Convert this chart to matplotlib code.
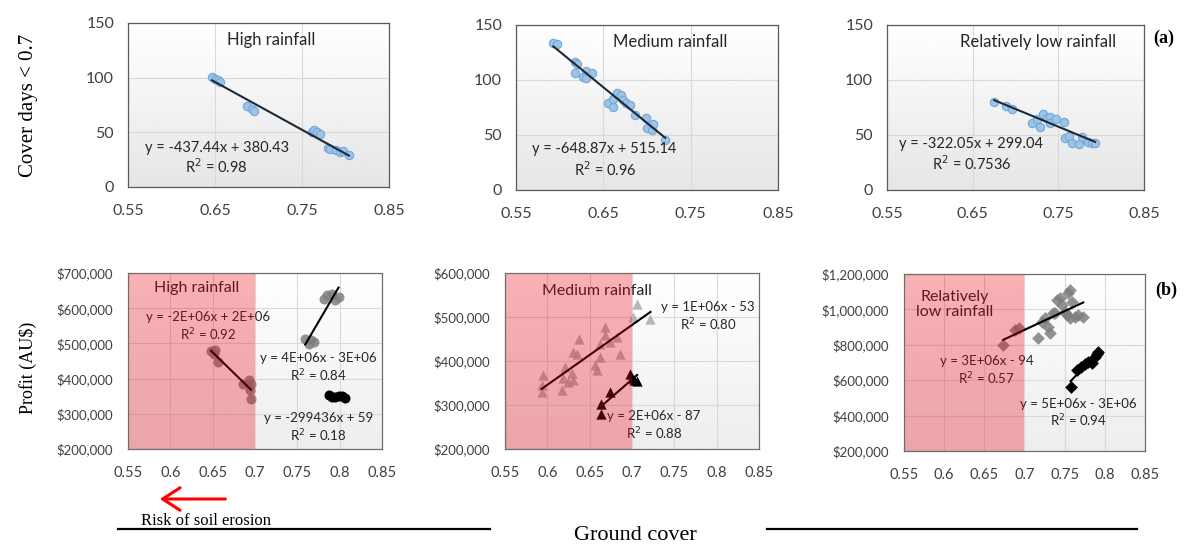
import matplotlib.pyplot as plt
import numpy as np
from matplotlib.lines import Line2D
from matplotlib.patches import FancyArrowPatch
from matplotlib.ticker import FuncFormatter

plt.rcParams['font.family'] = ['Lato', 'DejaVu Sans']

# ---- (a) days with cover below 0.7 against mean ground cover ----
high_cov = [0.6466, 0.6497, 0.6534, 0.6560, 0.6868, 0.6925, 0.6950, 0.7615, 0.7644,
            0.7670, 0.7710, 0.7800, 0.7826, 0.7895, 0.7933, 0.7970, 0.8040]
high_days = [100.8, 98.7, 97.8, 96.3, 74.1, 71.4, 69.8, 50.7, 52.2,
             50.7, 48.6, 35.5, 34.9, 34.0, 31.6, 32.5, 29.5]

med_cov = [0.5928, 0.5966, 0.6176, 0.6195, 0.6176, 0.6264, 0.6302, 0.6302, 0.6367,
           0.6558, 0.6616, 0.6616, 0.6660, 0.6700, 0.6723, 0.6760, 0.6807, 0.6864,
           0.6986, 0.7005, 0.7055, 0.7074, 0.7208]
med_days = [133.3, 132.7, 116.7, 114.2, 106.7, 102.4, 102.1, 108.5, 106.0,
            78.8, 75.8, 82.4, 87.9, 86.4, 81.8, 78.8, 77.3, 68.2,
            65.2, 56.1, 54.5, 60.0, 45.5]

low_cov = [0.6751, 0.6891, 0.6957, 0.7190, 0.7249, 0.7288, 0.7319, 0.7365, 0.7397,
           0.7404, 0.7474, 0.7560, 0.7579, 0.7618, 0.7657, 0.7735, 0.7774, 0.7851,
           0.7890, 0.7929]
low_days = [80.3, 76.4, 73.3, 61.2, 64.2, 57.6, 68.8, 65.2, 66.7,
            60.6, 64.2, 62.1, 47.0, 49.1, 43.0, 41.8, 48.5, 43.9,
            43.0, 42.4]

# trendline coefficients (slope, intercept) and R2
days_fit = [(-437.44, 380.43, '0.98'), (-648.87, 515.14, '0.96'), (-322.05, 299.04, '0.7536')]
days_titles = ['High rainfall', 'Medium rainfall', 'Relatively low rainfall']

# ---- (b) profit against ground cover ----
hr_a_cov = [0.6480, 0.6524, 0.6512, 0.6560, 0.6858, 0.6925, 0.6953, 0.6945, 0.6953]
hr_a_profit = [478800, 482600, 471000, 447600, 384300, 397500, 384300, 367300, 340800]
hr_b_cov = [0.7810, 0.7850, 0.7910, 0.7987, 0.7948, 0.7594, 0.7633, 0.7692, 0.7660]
hr_b_profit = [627400, 636800, 641600, 631900, 622600, 514000, 499800, 504300, 510000]
hr_c_cov = [0.7870, 0.7910, 0.7950, 0.7990, 0.8027, 0.8060]
hr_c_profit = [353000, 346500, 348000, 351000, 350000, 344000]

mr_a_cov = [0.7054, 0.7013, 0.7219, 0.6680, 0.6377, 0.6680, 0.6818, 0.6739, 0.6621,
            0.6857, 0.6306, 0.6621, 0.6562, 0.6582, 0.6208, 0.6287, 0.6188, 0.6306,
            0.6247, 0.6169, 0.5952, 0.5933, 0.5933, 0.6345]
mr_a_profit = [530600, 500200, 496500, 477500, 451200, 458700, 454800, 443400, 439800,
               417100, 420800, 409400, 390600, 379200, 386700, 371800, 360400, 356500,
               352700, 333900, 367900, 345200, 330000, 415500]
mr_b_cov = [0.6633, 0.6640, 0.6738, 0.6982, 0.7002, 0.7061, 0.7026]
mr_b_profit = [278600, 302000, 328500, 370000, 362000, 355000, 356500]

lr_a_cov = [0.6736, 0.6882, 0.6935, 0.7172, 0.7214, 0.7255, 0.7296, 0.7317, 0.7380,
            0.7401, 0.7442, 0.7463, 0.7504, 0.7545, 0.7566, 0.7588, 0.7566, 0.7629,
            0.7670, 0.7732, 0.7359, 0.7525]
lr_a_profit = [798000, 883000, 893000, 836000, 930000, 949000, 902000, 864000, 978000,
               1053000, 1062000, 1025000, 987000, 1091000, 1109000, 1043000, 949000, 958000,
               968000, 958000, 977000, 968000]
lr_b_cov = [0.7575, 0.7658, 0.7700, 0.7753, 0.7787, 0.7836, 0.7878, 0.7898, 0.7919]
lr_b_profit = [562000, 657000, 672000, 694000, 704000, 698000, 732000, 747000, 760000]

fig = plt.figure(figsize=(11.84, 5.45), dpi=100)

top_pos = [[0.1081, 0.6569, 0.2204, 0.3009],
           [0.4358, 0.6514, 0.2213, 0.3028],
           [0.7492, 0.6514, 0.2171, 0.3028]]
bot_pos = [[0.1081, 0.1761, 0.2145, 0.3229],
           [0.4265, 0.1761, 0.2145, 0.3229],
           [0.7635, 0.1725, 0.2035, 0.3248]]


def shade(ax, top, bottom):
    grad = np.linspace(top, bottom, 200).reshape(-1, 1)
    ax.imshow(grad, cmap='gray', vmin=0, vmax=1, extent=(0, 1, 0, 1),
              transform=ax.transAxes, aspect='auto', zorder=0)


def style(ax, edge):
    for s in ax.spines.values():
        s.set_color(edge)
        s.set_linewidth(0.9)
        s.set_zorder(8)
    ax.tick_params(length=0, colors='#404040')
    ax.grid(True, color='#d9d9d9', lw=0.8, zorder=1)
    ax.set_axisbelow(True)


# top row
top_data = [(high_cov, high_days), (med_cov, med_days), (low_cov, low_days)]
title_xy = [(0.55, 0.896), (0.588, 0.895), (0.589, 0.899)]
eq_xy = [(0.34, 0.236), (0.335, 0.248), (0.325, 0.279)]
r2_xy = [(0.34, 0.124), (0.34, 0.121), (0.33, 0.158)]
for i in range(3):
    ax = fig.add_axes(top_pos[i])
    shade(ax, 1.0, 0.9)
    x, y = top_data[i]
    m, b, r2 = days_fit[i]
    ax.scatter(x, y, s=36, facecolor='#9dc3e6', edgecolor='#74a7d9', lw=0.8, zorder=3)
    xl = np.array([min(x), max(x)])
    ax.plot(xl, m * xl + b, color='#1c2a38', lw=1.5, zorder=4)
    ax.set_xlim(0.55, 0.85)
    ax.set_ylim(0, 150)
    ax.set_xticks([0.55, 0.65, 0.75, 0.85])
    ax.set_yticks([0, 50, 100, 150])
    style(ax, '#5a5a5a')
    ax.tick_params(axis='x', labelsize=11.5, pad=12)
    ax.tick_params(axis='y', labelsize=11.5, pad=10)
    ax.text(*title_xy[i], days_titles[i], transform=ax.transAxes, ha='center', va='center',
            fontsize=12, color='#262626', zorder=6)
    sign = '+' if b >= 0 else '-'
    ax.text(*eq_xy[i], f'y = {m}x {sign} {abs(b):.2f}', transform=ax.transAxes,
            ha='center', va='center', fontsize=10.5, color='#262626', zorder=6)
    ax.text(*r2_xy[i], f'R$^2$ = {r2}', transform=ax.transAxes,
            ha='center', va='center', fontsize=10.5, color='#262626', zorder=6)

# bottom row
money = FuncFormatter(lambda v, p: f'${v:,.0f}')
pink = '#e8000a'
eq_col = '#262626'

ax4 = fig.add_axes(bot_pos[0])
ax5 = fig.add_axes(bot_pos[1])
ax6 = fig.add_axes(bot_pos[2])


def trend(ax, x, y):
    k, c = np.polyfit(x, y, 1)
    xl = np.array([min(x), max(x)])
    ax.plot(xl, k * xl + c, color='black', lw=1.5, zorder=4)


# high rainfall
ax4.scatter(hr_a_cov, hr_a_profit, s=52, marker='o', color='#7f7f7f', alpha=0.85, lw=0, zorder=3)
ax4.scatter(hr_b_cov, hr_b_profit, s=52, marker='o', color='#7f7f7f', alpha=0.85, lw=0, zorder=3)
ax4.scatter(hr_c_cov, hr_c_profit, s=52, marker='o', color='black', lw=0, zorder=3)
trend(ax4, hr_a_cov, hr_a_profit)
trend(ax4, hr_b_cov, hr_b_profit)
trend(ax4, hr_c_cov, hr_c_profit)
ax4.set_ylim(200000, 700000)
ax4.set_yticks(np.arange(200000, 700001, 100000))
ax4.text(0.27, 0.913, 'High rainfall', transform=ax4.transAxes, ha='center', va='center', fontsize=11.5, color=eq_col)
ax4.text(0.316, 0.748, 'y = -2E+06x + 2E+06', transform=ax4.transAxes, ha='center', va='center', fontsize=9.5, color=eq_col)
ax4.text(0.316, 0.648, 'R$^2$ = 0.92', transform=ax4.transAxes, ha='center', va='center', fontsize=9.5, color=eq_col)
ax4.text(0.749, 0.519, 'y = 4E+06x - 3E+06', transform=ax4.transAxes, ha='center', va='center', fontsize=9.5, color=eq_col)
ax4.text(0.749, 0.416, 'R$^2$ = 0.84', transform=ax4.transAxes, ha='center', va='center', fontsize=9.5, color=eq_col)
ax4.text(0.749, 0.178, 'y = -299436x + 59', transform=ax4.transAxes, ha='center', va='center', fontsize=9.5, color=eq_col)
ax4.text(0.749, 0.076, 'R$^2$ = 0.18', transform=ax4.transAxes, ha='center', va='center', fontsize=9.5, color=eq_col)

# medium rainfall
ax5.scatter(mr_a_cov, mr_a_profit, s=55, marker='^', color='#a6a6a6', alpha=0.8, lw=0, zorder=3)
ax5.scatter(mr_b_cov, mr_b_profit, s=55, marker='^', color='black', lw=0, zorder=3)
trend(ax5, mr_a_cov, mr_a_profit)
trend(ax5, mr_b_cov, mr_b_profit)
ax5.set_ylim(200000, 600000)
ax5.set_yticks(np.arange(200000, 600001, 100000))
ax5.text(0.361, 0.898, 'Medium rainfall', transform=ax5.transAxes, ha='center', va='center', fontsize=11.5, color=eq_col)
ax5.text(0.80, 0.809, 'y = 1E+06x - 53', transform=ax5.transAxes, ha='center', va='center', fontsize=9.5, color=eq_col)
ax5.text(0.80, 0.705, 'R$^2$ = 0.80', transform=ax5.transAxes, ha='center', va='center', fontsize=9.5, color=eq_col)
ax5.text(0.584, 0.189, 'y = 2E+06x - 87', transform=ax5.transAxes, ha='center', va='center', fontsize=9.5, color=eq_col)
ax5.text(0.59, 0.085, 'R$^2$ = 0.88', transform=ax5.transAxes, ha='center', va='center', fontsize=9.5, color=eq_col)

# relatively low rainfall
ax6.scatter(lr_a_cov, lr_a_profit, s=42, marker='D', color='#7f7f7f', alpha=0.85, lw=0, zorder=3)
ax6.scatter(lr_b_cov, lr_b_profit, s=42, marker='D', color='black', lw=0, zorder=3)
trend(ax6, lr_a_cov, lr_a_profit)
trend(ax6, lr_b_cov, lr_b_profit)
ax6.set_ylim(200000, 1200000)
ax6.set_yticks(np.arange(200000, 1200001, 200000))
ax6.text(0.212, 0.829, 'Relatively\nlow rainfall', transform=ax6.transAxes, ha='center', va='center',
         fontsize=11.5, color=eq_col, linespacing=1.1)
ax6.text(0.343, 0.509, 'y = 3E+06x - 94', transform=ax6.transAxes, ha='center', va='center', fontsize=9.5, color=eq_col)
ax6.text(0.343, 0.41, 'R$^2$ = 0.57', transform=ax6.transAxes, ha='center', va='center', fontsize=9.5, color=eq_col)
ax6.text(0.723, 0.268, 'y = 5E+06x - 3E+06', transform=ax6.transAxes, ha='center', va='center', fontsize=9.5, color=eq_col)
ax6.text(0.723, 0.17, 'R$^2$ = 0.94', transform=ax6.transAxes, ha='center', va='center', fontsize=9.5, color=eq_col)

for ax in (ax4, ax5, ax6):
    shade(ax, 1.0, 0.93)
    ax.axvspan(0.55, 0.70, color=pink, alpha=0.3, lw=0, zorder=5)
    ax.set_xlim(0.55, 0.85)
    ax.set_xticks(np.arange(0.55, 0.851, 0.05))
    ax.xaxis.set_major_formatter(FuncFormatter(lambda v, p: f'{v:g}'))
    ax.yaxis.set_major_formatter(money)
    style(ax, '#6e6e6e')
    ax.tick_params(axis='y', labelsize=9.5, pad=11)
    ax.tick_params(axis='x', labelsize=10.5, pad=12)

# shared labels
serif = ['Liberation Serif', 'DejaVu Serif']
fig.text(0.0241, 0.807, 'Cover days < 0.7', rotation=90, ha='center', va='center', fontsize=15, family=serif)
fig.text(0.0236, 0.325, 'Profit (AU$)', rotation=90, ha='center', va='center', fontsize=13, family=serif)
fig.text(0.983, 0.930, '(a)', ha='center', va='center', fontsize=13, fontweight='bold', family=serif)
fig.text(0.985, 0.468, '(b)', ha='center', va='center', fontsize=13, fontweight='bold', family=serif)
fig.text(0.5363, 0.018, 'Ground cover', ha='center', va='center', fontsize=16, family=serif)
fig.add_artist(Line2D([0.0997, 0.4139], [0.0294, 0.0294], transform=fig.transFigure, color='black', lw=1.6))
fig.add_artist(Line2D([0.6478, 0.9603], [0.0294, 0.0294], transform=fig.transFigure, color='black', lw=1.6))

fig.add_artist(FancyArrowPatch((0.1926, 0.0844), (0.1326, 0.0844), transform=fig.transFigure,
                               arrowstyle='->,head_length=0.7,head_width=0.45', color='red',
                               lw=2.2, mutation_scale=18))
fig.text(0.1188, 0.0367, 'Risk of soil erosion', ha='left', va='baseline', fontsize=12, family=serif)

fig.savefig('out.png', dpi=100)
